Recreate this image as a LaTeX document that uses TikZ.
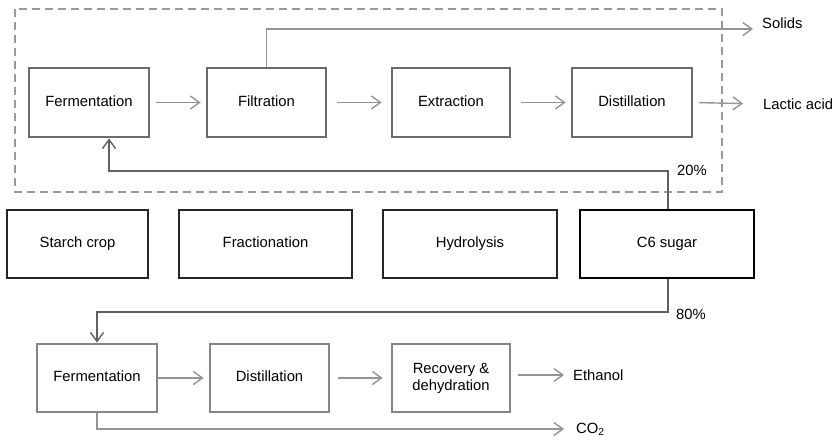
\documentclass[tikz,border=0pt]{standalone}
\usepackage{fontspec}
\setmainfont{Liberation Sans}
\usetikzlibrary{arrows.meta,calc}
\begin{document}
\begin{tikzpicture}[x=1pt,y=-1pt,
  font=\fontsize{14.8}{17}\selectfont,
  tip/.style={-{Straight Barb[length=9pt,width=13pt,line width=1.4pt]}},
  procbox/.style={draw=black!58, line width=2.8pt, minimum height=69pt, inner sep=0pt, align=center, text height=10.5pt, text depth=3pt},
  feedbox/.style={draw=black!85, line width=2.8pt, minimum height=68pt, inner sep=0pt, align=center, text height=10.5pt, text depth=3pt},
  lowbox/.style={draw=black!48, line width=2.8pt, minimum height=68pt, inner sep=0pt, align=center},
  flow/.style={draw=black!42, line width=1.4pt, tip},
  split/.style={draw=black!62, line width=1.6pt, tip},
  label/.style={inner sep=0pt, anchor=west}]
\useasboundingbox (0,0) rectangle (835,444);

% lactic acid section
\draw[black!40, line width=2pt, dash pattern=on 8pt off 5pt] (15,9) rectangle (722,192);
\node[procbox, minimum width=120pt] (f1) at (89,102.5) {Fermentation};
\node[procbox, minimum width=119pt] (filt) at (266.5,102.5) {Filtration};
\node[procbox, minimum width=118pt] (extr) at (451,102.5) {Extraction};
\node[procbox, minimum width=120pt] (dist1) at (632,102.5) {Distillation};
\node[label] (lactic) at (763,104) {Lactic acid};
\node[label] (solids) at (762,23) {Solids};

% feedstock chain
\node[feedbox, minimum width=141pt] (starch) at (77.5,244) {Starch crop};
\node[feedbox, minimum width=173pt] (frac) at (265.5,244) {Fractionation};
\node[feedbox, minimum width=174pt] (hydro) at (470,244) {Hydrolysis};
\node[feedbox, minimum width=174pt, draw=black] (c6) at (667,244) {C6 sugar};

% ethanol section
\node[lowbox, minimum width=120pt, text height=10.5pt, text depth=3pt] (f2) at (97,378) {Fermentation};
\node[lowbox, minimum width=119pt, text height=10.5pt, text depth=3pt] (dist2) at (269.5,378) {Distillation};
\node[lowbox, minimum width=118pt] (recov) at (451,378) {Recovery \&\\dehydration};
\node[label] (ethanol) at (573,375) {Ethanol};
\node[label] (co2) at (576,429) {CO\textsubscript{2}};

% lactic acid flows
\draw[flow, shorten <=6pt, shorten >=5pt] (f1.east) -- (f1.east -| filt.west);
\draw[flow, shorten <=10pt, shorten >=9pt] (filt.east) -- (filt.east -| extr.west);
\draw[flow, shorten <=10pt, shorten >=5pt] (extr.east) -- (extr.east -| dist1.west);
\draw[flow, shorten <=6pt, shorten >=20pt] (dist1.east) -- (lactic.west);
\coordinate (solidsturn) at (266.5,29);
\draw[flow, shorten >=9pt] (filt.north) -- (solidsturn) -- (solidsturn -| solids.west);

% split of the C6 sugar stream
\coordinate (up20) at (668,171);
\coordinate (back20) at (109,171);
\draw[split] (c6.north -| up20) -- (up20) -- (back20) -- (back20 |- f1.south);
\node[anchor=center] (p20) at (692,170) {20\%};
\coordinate (down80) at (668,312);
\coordinate (left80) at (97,312);
\draw[split] (c6.south -| down80) -- (down80) -- (left80) -- (f2.north);
\node[anchor=center] (p80) at (691,314) {80\%};

% ethanol flows
\draw[flow, shorten >=5pt] (f2.east) -- (f2.east -| dist2.west);
\draw[flow, shorten <=8pt, shorten >=8pt] (dist2.east) -- (dist2.east -| recov.west);
\coordinate (ethstart) at (518,375);
\draw[flow, shorten >=9pt] (ethstart) -- (ethanol.west);
\coordinate (co2turn) at (97,429);
\draw[flow, shorten >=12pt] (f2.south) -- (co2turn) -- (co2turn -| co2.west);
\end{tikzpicture}
\end{document}
